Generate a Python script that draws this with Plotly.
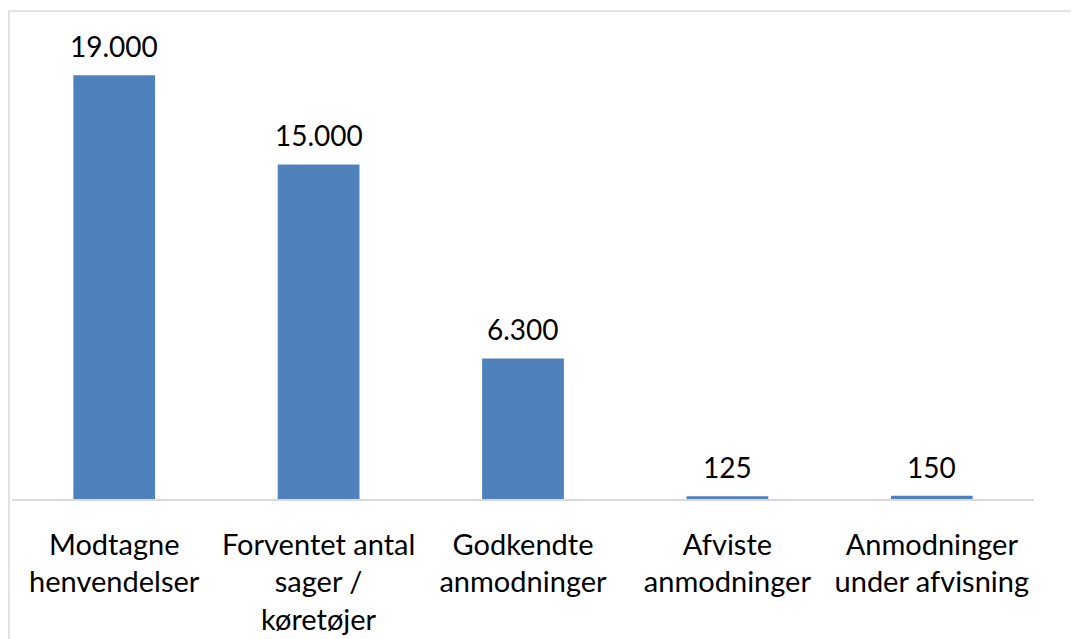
import plotly.graph_objects as go

categories = [
    "Modtagne<br>henvendelser",
    "Forventet antal<br>sager /<br>køretøjer",
    "Godkendte<br>anmodninger",
    "Afviste<br>anmodninger",
    "Anmodninger<br>under afvisning",
]
values = [19000, 15000, 6300, 125, 150]
labels = [f"{v:,}".replace(",", ".") for v in values]

FONT = "Lato, Calibri, sans-serif"
BAR_COLOR = "#4f81bd"

fig = go.Figure()
fig.add_trace(go.Bar(x=categories, y=values, marker_color=BAR_COLOR,
                     marker_line_width=0, hoverinfo="skip"))

for c, v, t in zip(categories, values, labels):
    fig.add_annotation(x=c, y=v, text=t, showarrow=False, yanchor="bottom",
                       yshift=10, font=dict(family=FONT, size=28, color="#000000"))

fig.add_shape(type="rect", xref="paper", yref="paper", x0=-3/1022, x1=1.2,
              y0=-0.5, y1=1.0, line=dict(color="#d9d9d9", width=1.5),
              fillcolor="rgba(0,0,0,0)", layer="below")

fig.update_layout(
    width=1071, height=631,
    margin=dict(l=4, r=45, t=3, b=135),
    paper_bgcolor="white", plot_bgcolor="white",
    bargap=0.6, showlegend=False,
    font=dict(family=FONT, size=28, color="#000000"),
    xaxis=dict(showline=True, linecolor="#d9d9d9", linewidth=1.5,
               ticks="", ticklabelstandoff=19, showgrid=False,
               tickfont=dict(family=FONT, size=29, color="#000000")),
    yaxis=dict(visible=False, range=[0, 21880], showgrid=False, zeroline=False),
)

fig.write_html("out.html")
